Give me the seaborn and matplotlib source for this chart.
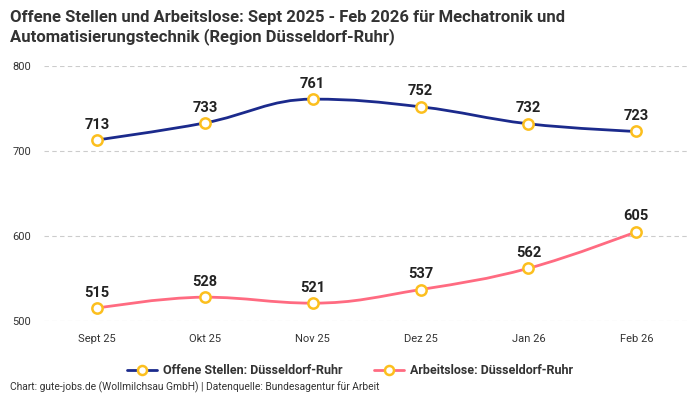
import matplotlib
matplotlib.use("Agg")
import matplotlib.pyplot as plt
from matplotlib.path import Path
from matplotlib.patches import PathPatch
from matplotlib.lines import Line2D
import seaborn as sns
import pandas as pd

months = ["Sept 25", "Okt 25", "Nov 25", "Dez 25", "Jan 26", "Feb 26"]
offene_stellen = [713, 733, 761, 752, 732, 723]
arbeitslose = [515, 528, 521, 537, 562, 605]
y_ticks = [500, 600, 700, 800]

BLUE = "#1b2a8c"
PINK = "#ff6b81"
GOLD = "#fcbf1e"
FONT = "Roboto"


def spline_path(xs, ys, smoothing=1.5):
    # spline like the original chart: bezier segments between the points
    denom = smoothing + 1
    verts = [(xs[0], ys[0])]
    codes = [Path.MOVETO]
    ctrl = []
    n = len(xs)
    for i in range(n):
        if i == 0 or i == n - 1:
            ctrl.append(((xs[i], ys[i]), (xs[i], ys[i])))
            continue
        lx = (smoothing * xs[i] + xs[i - 1]) / denom
        ly = (smoothing * ys[i] + ys[i - 1]) / denom
        rx = (smoothing * xs[i] + xs[i + 1]) / denom
        ry = (smoothing * ys[i] + ys[i + 1]) / denom
        corr = (ry - ly) * (rx - xs[i]) / (rx - lx) + ys[i] - ry
        ly += corr
        ry += corr
        if ly > ys[i - 1] and ly > ys[i]:
            ly = max(ys[i - 1], ys[i])
            ry = 2 * ys[i] - ly
        elif ly < ys[i - 1] and ly < ys[i]:
            ly = min(ys[i - 1], ys[i])
            ry = 2 * ys[i] - ly
        if ry > ys[i + 1] and ry > ys[i]:
            ry = max(ys[i + 1], ys[i])
            ly = 2 * ys[i] - ry
        elif ry < ys[i + 1] and ry < ys[i]:
            ry = min(ys[i + 1], ys[i])
            ly = 2 * ys[i] - ry
        ctrl.append(((lx, ly), (rx, ry)))
    for i in range(1, n):
        verts += [ctrl[i - 1][1], ctrl[i][0], (xs[i], ys[i])]
        codes += [Path.CURVE4] * 3
    return Path(verts, codes)


sns.set_theme(style="white")
plt.rcParams["font.family"] = [FONT, "DejaVu Sans"]

df = pd.DataFrame({"month": months, "Offene Stellen": offene_stellen,
                   "Arbeitslose": arbeitslose})
df["pos"] = range(len(months))

fig = plt.figure(figsize=(7, 4), dpi=100)
ax = fig.add_axes([0.063, 0.1975, 0.923, 0.6375])

for col, color in [("Offene Stellen", BLUE), ("Arbeitslose", PINK)]:
    ax.add_patch(PathPatch(spline_path(list(df["pos"]), list(df[col])),
                           facecolor="none", edgecolor=color, lw=2, zorder=3))
    sns.scatterplot(data=df, x="pos", y=col, ax=ax, s=55, color="white",
                    edgecolor=GOLD, linewidth=1.8, zorder=4, clip_on=False)
    for x, v in zip(df["pos"], df[col]):
        ax.annotate(str(v), (x, v), xytext=(0, 6), textcoords="offset points",
                    ha="center", va="bottom", fontsize=10.5, fontweight="bold",
                    color="#222222")

ax.set_xlim(-0.49, 5.5)
ax.set_ylim(500, 800)
ax.set_xticks(range(len(months)))
ax.set_xticklabels(months)
ax.set_yticks(y_ticks)
ax.set_xlabel("")
ax.set_ylabel("")
ax.tick_params(axis="both", length=0, labelsize=8, colors="#333333")
ax.tick_params(axis="x", pad=9)
for lab in ax.get_yticklabels():
    lab.set_horizontalalignment("left")
ax.yaxis.set_tick_params(pad=23)
ax.grid(axis="y", color="#cccccc", linestyle=(0, (4, 3)), lw=0.8)
sns.despine(ax=ax, left=True, bottom=True, right=True, top=True)

fig.text(0.014, 0.975, "Offene Stellen und Arbeitslose: Sept 2025 - Feb 2026 für Mechatronik und\n"
         "Automatisierungstechnik (Region Düsseldorf-Ruhr)",
         ha="left", va="top", fontsize=12, fontweight="bold", color="#333333",
         linespacing=1.2)

handles = [Line2D([0], [0], color=BLUE, lw=2, marker="o", markersize=6.5,
                  markerfacecolor="white", markeredgecolor=GOLD, markeredgewidth=1.8),
           Line2D([0], [0], color=PINK, lw=2, marker="o", markersize=6.5,
                  markerfacecolor="white", markeredgecolor=GOLD, markeredgewidth=1.8)]
leg = fig.legend(handles, ["Offene Stellen: Düsseldorf-Ruhr", "Arbeitslose: Düsseldorf-Ruhr"],
                 loc="center", bbox_to_anchor=(0.5, 0.073), ncol=2, frameon=False,
                 handlelength=2.4, columnspacing=2.5, handletextpad=0.5,
                 prop={"weight": "bold", "size": 9})
for t in leg.get_texts():
    t.set_color("#333333")

fig.text(0.014, 0.017, "Chart: gute-jobs.de (Wollmilchsau GmbH) | Datenquelle: Bundesagentur für Arbeit",
         ha="left", va="bottom", fontsize=7.4, color="#333333")

fig.savefig("out.png", dpi=100)
